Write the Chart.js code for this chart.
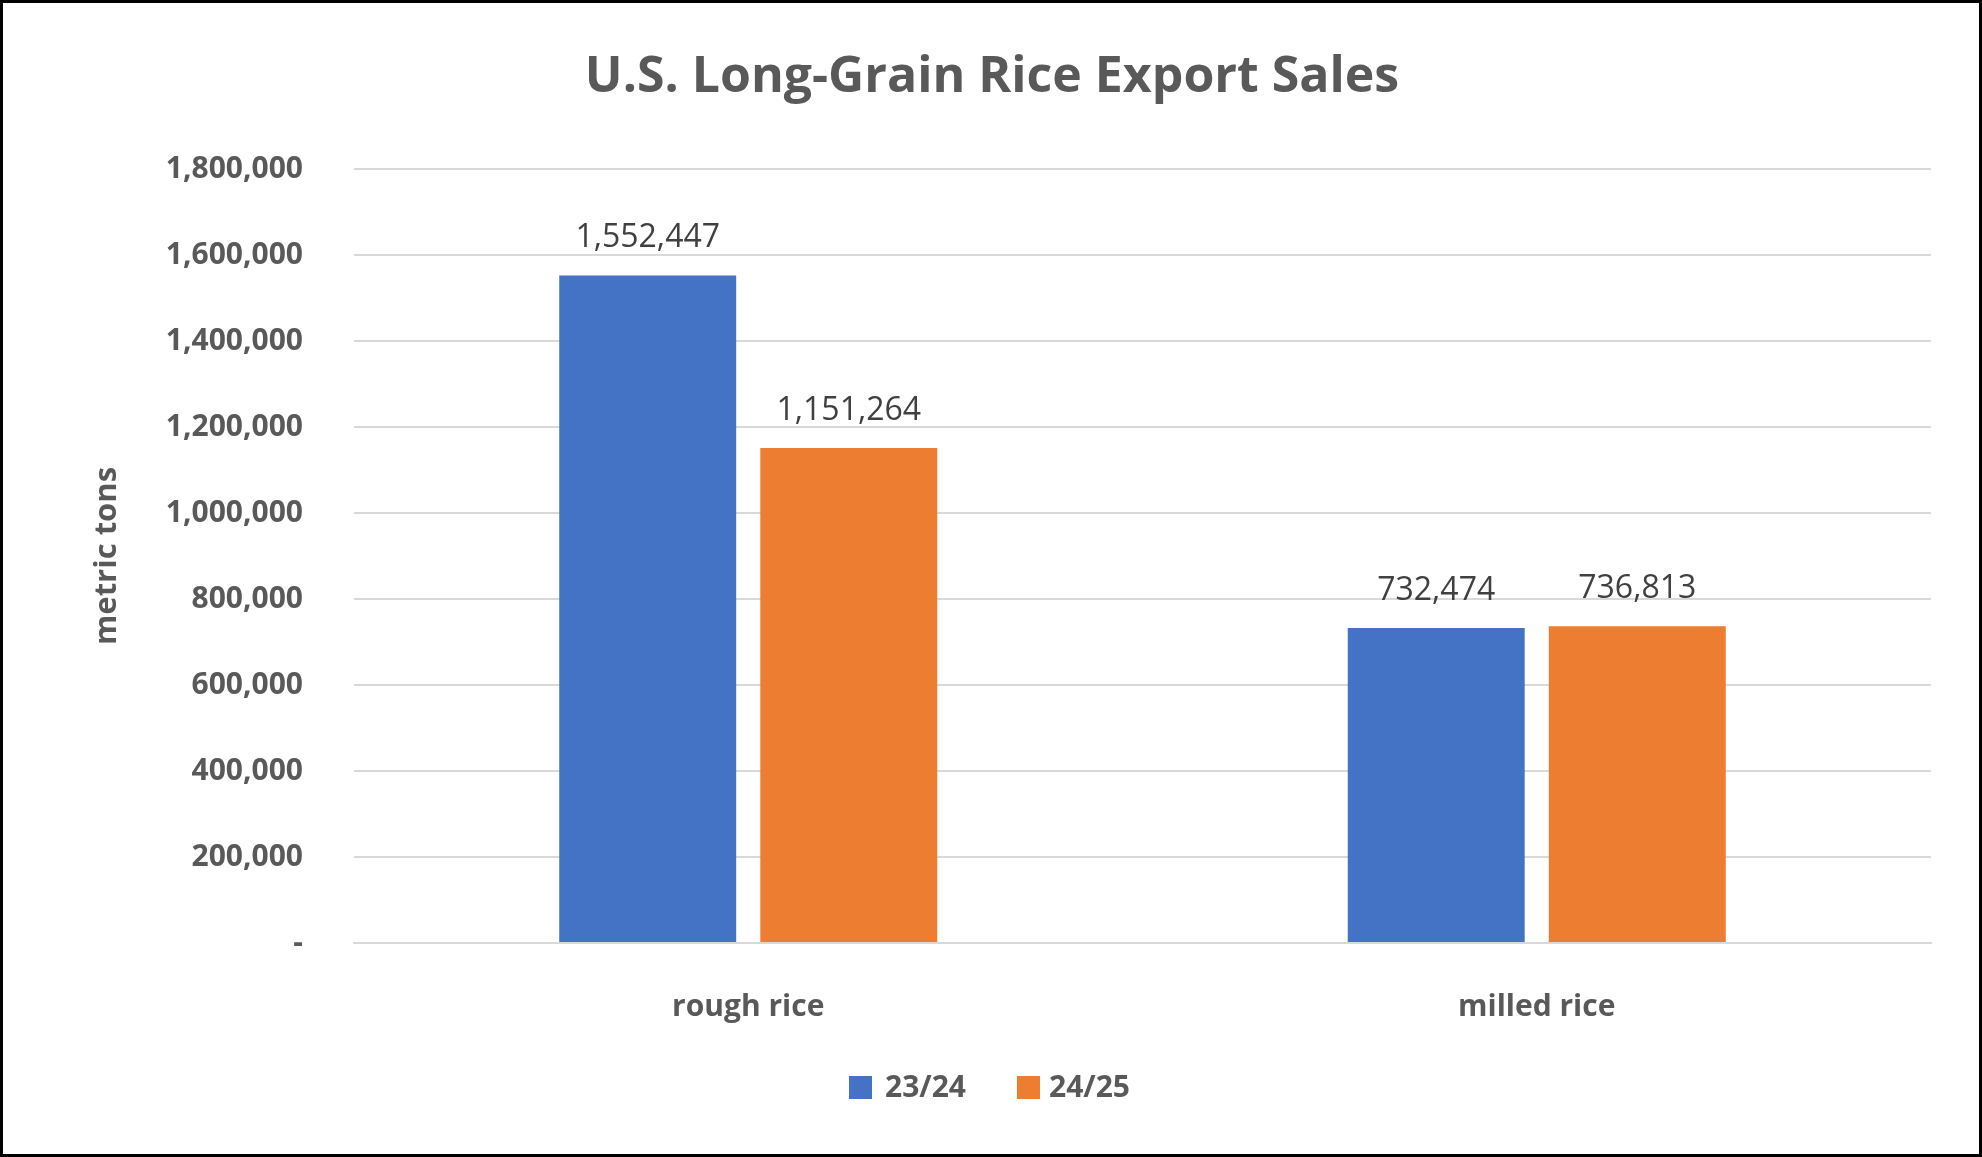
<!DOCTYPE html>
<html>
<head>
<meta charset="utf-8">
<script src="https://cdn.jsdelivr.net/npm/chart.js@4/dist/chart.umd.min.js"></script>
<style>
  html, body { margin: 0; padding: 0; background: #fff; }
  #wrap { width: 1982px; height: 1157px; }
</style>
</head>
<body>
<div id="wrap"><canvas id="riceChart" width="1982" height="1157"></canvas></div>
<script>
// values
const categories = ['rough rice', 'milled rice'];
const seasons = ['23/24', '24/25'];
const sales2324 = [1552447, 732474];
const sales2425 = [1151264, 736813];
const colors = ['#4472C4', '#ED7D31'];

const FONT = '"Open Sans", "Liberation Sans", sans-serif';
const GREY = '#595959';

const decorPlugin = {
    id: 'decor',
    afterDraw(chart) {
        const ctx = chart.ctx;
        ctx.save();

        // title
        ctx.fillStyle = GREY;
        ctx.font = 'bold 50px ' + FONT;
        ctx.textAlign = 'center';
        ctx.textBaseline = 'middle';
        ctx.fillText('U.S. Long-Grain Rice Export Sales', 992, 78);

        // axis title
        ctx.save();
        ctx.translate(107, 556);
        ctx.rotate(-Math.PI / 2);
        ctx.font = 'bold 31px ' + FONT;
        ctx.fillText('metric tons', 0, 0);
        ctx.restore();

        // value labels
        ctx.fillStyle = '#404040';
        ctx.font = '32px ' + FONT;
        ctx.textBaseline = 'alphabetic';
        chart.data.datasets.forEach((ds, i) => {
            chart.getDatasetMeta(i).data.forEach((bar, j) => {
                ctx.fillText(ds.data[j].toLocaleString('en-US'), bar.x, bar.y - 28);
            });
        });

        // legend
        ctx.font = 'bold 30px ' + FONT;
        ctx.textAlign = 'left';
        ctx.textBaseline = 'middle';
        const items = [[849, 885], [1017, 1049]];
        items.forEach((pos, i) => {
            ctx.fillStyle = colors[i];
            ctx.fillRect(pos[0], 1076, 23, 23);
            ctx.fillStyle = GREY;
            ctx.fillText(seasons[i], pos[1], 1088);
        });

        // frame
        ctx.strokeStyle = '#000';
        ctx.lineWidth = 3;
        ctx.strokeRect(1.5, 1.5, chart.width - 3, chart.height - 3);
        ctx.restore();
    }
};

new Chart(document.getElementById('riceChart'), {
    type: 'bar',
    data: {
        labels: categories,
        datasets: [
            { label: seasons[0], data: sales2324, backgroundColor: colors[0] },
            { label: seasons[1], data: sales2425, backgroundColor: colors[1] }
        ]
    },
    options: {
        responsive: false,
        animation: false,
        devicePixelRatio: 1,
        categoryPercentage: 0.51,
        barPercentage: 0.88,
        layout: { padding: { left: 10, right: 51, top: 169, bottom: 134 } },
        plugins: { legend: { display: false }, title: { display: false }, tooltip: { enabled: false } },
        scales: {
            x: {
                grid: { display: false },
                border: { color: '#d9d9d9', width: 2 },
                ticks: { color: GREY, font: { family: FONT, size: 30, weight: 'bold' }, padding: 38 },
                afterFit(scale) { scale.height = 80; }
            },
            y: {
                min: 0,
                max: 1800000,
                grid: { color: '#d9d9d9', lineWidth: 2, drawTicks: false },
                border: { display: false },
                ticks: {
                    stepSize: 200000,
                    padding: 51,
                    color: GREY,
                    font: { family: FONT, size: 30, weight: 'bold' },
                    callback: v => v === 0 ? '-' : v.toLocaleString('en-US')
                },
                afterFit(scale) { scale.width = 344; }
            }
        }
    },
    plugins: [decorPlugin]
});
</script>
</body>
</html>
